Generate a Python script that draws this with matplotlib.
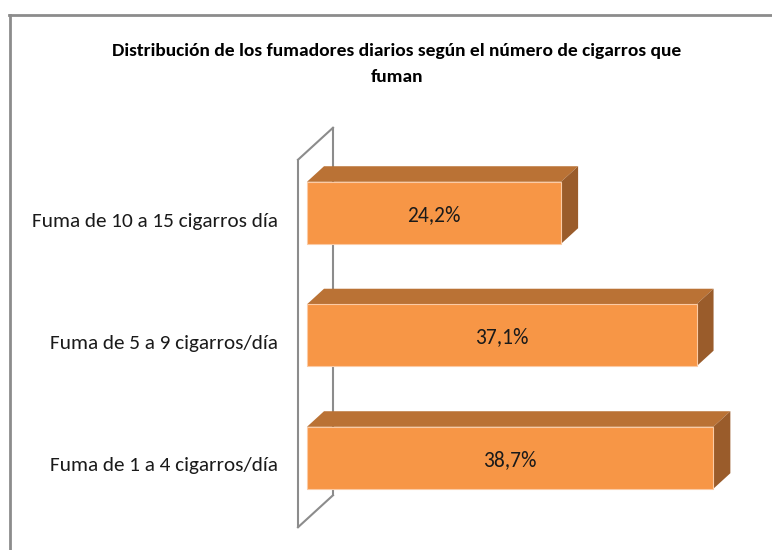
import matplotlib
matplotlib.use('Agg')
import matplotlib.pyplot as plt
from matplotlib.patches import Polygon
from matplotlib.lines import Line2D

categorias = ['Fuma de 1 a 4 cigarros/día', 'Fuma de 5 a 9 cigarros/día', 'Fuma de 10 a 15 cigarros día']
valores = [38.7, 37.1, 24.2]
etiquetas = ['38,7%', '37,1%', '24,2%']
titulo1 = 'Distribución de los fumadores diarios según el número de cigarros que'
titulo2 = 'fuman'

plt.rcParams['font.family'] = ['Carlito', 'DejaVu Sans']

W, H = 772, 550
fig = plt.figure(figsize=(W / 100, H / 100), dpi=100)
ax = fig.add_axes([0, 0, 1, 1])

# pixel mapping: x=0 at 298px, 10.5 px per %, category 0 at 466px, 122.5 px per category
ax.set_xlim(-298 / 10.5, (W - 298) / 10.5)
ax.set_ylim(-(H - 466) / 122.5, 466 / 122.5)
ax.axis('off')

# 3d depth offsets (data units) and bar geometry
DX, DY = 35 / 10.5, 32 / 122.5
d1, d2 = 0.257, 0.743
alto = 0.506

front = '#F79646'
top = '#BA7235'
side = '#9A5C2B'
gris = '#8C8C8C'

# back wall outline
y0, y1 = -0.5, 2.5
ax.plot([0, 0], [y0, y1], color=gris, lw=1.5, zorder=1)
ax.plot([DX, DX], [y0 + DY, y1 + DY], color=gris, lw=1.5, zorder=1)
ax.plot([0, DX], [y1, y1 + DY], color=gris, lw=1.5, zorder=1)
ax.plot([0, DX], [y0, y0 + DY], color=gris, lw=1.5, zorder=1)

for i, (v, lab) in enumerate(zip(valores, etiquetas)):
    fx0 = d1 * DX
    fx1 = v + d1 * DX
    fy0 = i - alto / 2 + d1 * DY
    fy1 = i + alto / 2 + d1 * DY
    ddx = (d2 - d1) * DX
    ddy = (d2 - d1) * DY
    ax.add_patch(Polygon([(fx0, fy1), (fx1, fy1), (fx1 + ddx, fy1 + ddy), (fx0 + ddx, fy1 + ddy)],
                         closed=True, facecolor=top, edgecolor='none', zorder=2))
    ax.add_patch(Polygon([(fx1, fy0), (fx1 + ddx, fy0 + ddy), (fx1 + ddx, fy1 + ddy), (fx1, fy1)],
                         closed=True, facecolor=side, edgecolor='none', zorder=2))
    ax.add_patch(Polygon([(fx0, fy0), (fx1, fy0), (fx1, fy1), (fx0, fy1)],
                         closed=True, facecolor=front, edgecolor='#FBCBA5', lw=0.8, zorder=3))
    ax.text(fx0 + v / 2, (fy0 + fy1) / 2, lab, ha='center', va='center_baseline',
            fontsize=15.5, color='#1a1a1a', zorder=4)
    ax.text(-1.9, i, categorias[i], ha='right', va='center', fontsize=15.3, color='#1a1a1a')

fig.text(397 / W, 1 - 56 / H, titulo1, ha='center', va='baseline', fontsize=14,
         fontweight='bold', color='black')
fig.text(397 / W, 1 - 82 / H, titulo2, ha='center', va='baseline', fontsize=14,
         fontweight='bold', color='black')

# chart border
fig.add_artist(Line2D([9 / W, 1], [1 - 15 / H, 1 - 15 / H], transform=fig.transFigure,
                      color=gris, lw=2))
fig.add_artist(Line2D([10 / W, 10 / W], [0, 1 - 15 / H], transform=fig.transFigure,
                      color=gris, lw=2))

fig.savefig('out.png', dpi=100)
